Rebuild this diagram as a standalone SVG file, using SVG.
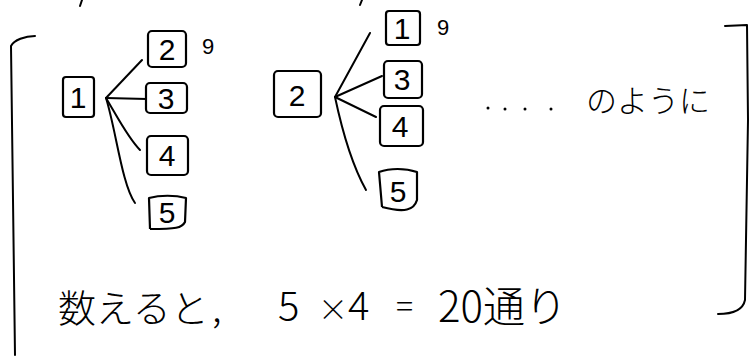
<svg xmlns="http://www.w3.org/2000/svg" width="751" height="359" viewBox="0 0 751 359">
<style>
.ln{fill:none;stroke:#000;stroke-width:2;stroke-linecap:round;stroke-linejoin:round}
.bx{fill:#fff;stroke:#000;stroke-width:2.2;stroke-linejoin:round}
.num{font-family:"Liberation Sans","Noto Sans CJK JP",sans-serif;font-size:30px;fill:#000;text-anchor:middle}
.jp{font-family:"Noto Sans CJK JP","Liberation Sans",sans-serif;font-weight:300;fill:#000}
.mk{font-family:"Liberation Sans",sans-serif;font-size:22px;fill:#000}
</style>
<rect width="751" height="359" fill="#fff"/>
<g id="brackets">
<path class="ln" d="M35,36 C25,36 14,40 11,46 L13,200 L15,355"/>
<path class="ln" d="M725,26 L747,25 L748,120 L745,300 C743,310 732,314 718,314"/>
<path class="ln" d="M82,0 L80,6"/>
<path class="ln" d="M362,0 L360,5"/>
</g>
<g id="connectors">
<path class="ln" d="M106,98 L142,60"/>
<path class="ln" d="M106,98 L147,99"/>
<path class="ln" d="M106,98 C118,118 128,138 140,150"/>
<path class="ln" d="M106,98 C116,130 122,185 135,203"/>
<path class="ln" d="M335,97 L370,33"/>
<path class="ln" d="M335,97 L382,76"/>
<path class="ln" d="M335,97 L376,117"/>
<path class="ln" d="M335,97 C342,130 352,165 366,190"/>
</g>
<g id="n1a"><rect class="bx" x="63" y="77" width="31" height="40" rx="3"/><text class="num" x="78" y="108">1</text></g>
<g id="n2a"><rect class="bx" x="148" y="31" width="38" height="36" rx="4"/><text class="num" x="167" y="60">2</text></g>
<g id="n3a"><rect class="bx" x="146" y="83" width="41" height="30" rx="4"/><text class="num" x="166" y="109">3</text></g>
<g id="n4a"><rect class="bx" x="147" y="136" width="41" height="39" rx="4"/><text class="num" x="167" y="166">4</text></g>
<g id="n5a"><path class="bx" d="M150,229 L149,198 C160,195 175,195 186,198 L185,222 C182,228 176,229 150,229" /><text class="num" x="167" y="223">5</text></g>
<text class="mk" x="202" y="54">9</text>
<g id="n2b"><rect class="bx" x="274" y="71" width="47" height="46" rx="4"/><text class="num" x="297" y="106">2</text></g>
<g id="n1b"><rect class="bx" x="386" y="11" width="34" height="34" rx="3"/><text class="num" x="402" y="39">1</text></g>
<g id="n3b"><rect class="bx" x="384" y="61" width="38" height="37" rx="4"/><text class="num" x="402" y="90">3</text></g>
<g id="n4b"><rect class="bx" x="380" y="106" width="43" height="40" rx="4"/><text class="num" x="400" y="137">4</text></g>
<g id="n5b"><path class="bx" d="M382,207 L379,172 C390,168 405,168 417,172 L417,200 C414,210 405,213 382,207"/><text class="num" x="398" y="202">5</text></g>
<text class="mk" x="437" y="35">9</text>
<g id="note1">
<circle cx="488" cy="108" r="1.5"/><circle cx="505" cy="109" r="1.5"/><circle cx="525" cy="109" r="1.5"/><circle cx="551" cy="109" r="1.5"/>
<text class="jp" x="586" y="112" font-size="31">のように</text>
</g>
<g id="note2">
<text class="jp" x="58" y="322" font-size="38">数えると</text>
<text class="jp" x="212" y="322" font-size="38">,</text>
<text class="jp" x="278" y="320" font-size="40">5</text>
<text class="jp" x="318" y="320" font-size="30">×</text>
<text class="jp" x="348" y="320" font-size="40">4</text>
<text class="jp" x="396" y="318" font-size="32">=</text>
<text class="jp" x="438" y="322" font-size="42">20通り</text>
</g>
</svg>
